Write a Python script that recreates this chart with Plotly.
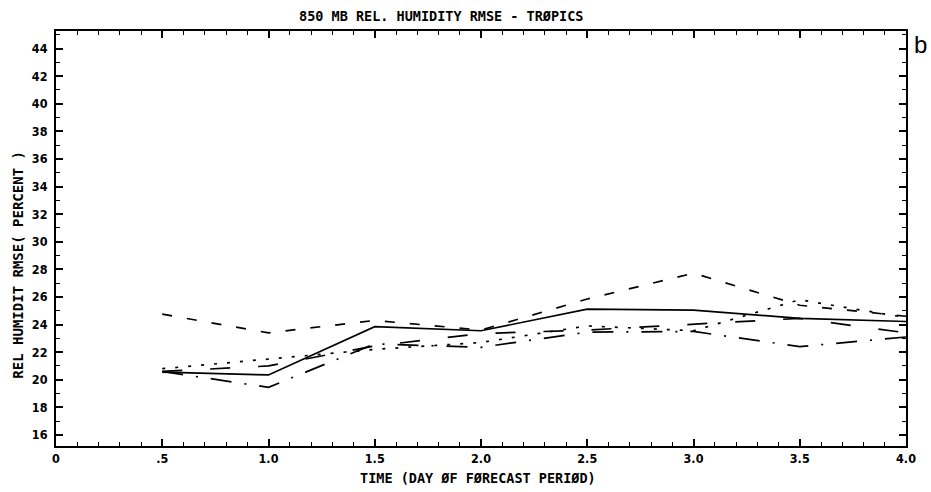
import plotly.graph_objects as go

# ---- data ----
days = [0.5, 1.0, 1.5, 2.0, 2.5, 3.0, 3.5, 4.0]
solid_vals = [20.55, 20.35, 23.85, 23.55, 25.12, 25.05, 24.45, 24.22]
longdash_vals = [24.75, 23.4, 24.3, 23.6, 25.85, 27.72, 25.4, 24.6]
dotted_vals = [20.8, 21.5, 22.2, 22.7, 23.9, 23.55, 25.8, 24.5]
chain_vals = [20.6, 19.45, 22.6, 22.35, 23.45, 23.5, 22.4, 23.1]
meddash_vals = [20.6, 21.0, 22.45, 23.35, 23.6, 24.0, 24.45, 23.4]

x_tickvals = [0, 0.5, 1.0, 1.5, 2.0, 2.5, 3.0, 3.5, 4.0]
x_ticktext = ["0", ".5", "1.0", "1.5", "2.0", "2.5", "3.0", "3.5", "4.0"]
y_tickvals = list(range(16, 45, 2))

title_text = "850 MB REL. HUMIDITY RMSE - TRØPICS"
xaxis_title = "TIME (DAY ØF FØRECAST PERIØD)"
yaxis_title = "REL HUMIDIT RMSE( PERCENT )"
panel_label = "b"

FONT = "DejaVu Sans Condensed"
MONO = "DejaVu Sans Mono"

series = [
    (solid_vals, "solid"),
    (longdash_vals, "10px,15px"),
    (dotted_vals, "3px,10px"),
    (chain_vals, "21px,13px,2px,13px"),
    (meddash_vals, "20px,28px"),
]

fig = go.Figure()
for vals, dash in series:
    fig.add_trace(go.Scatter(
        x=days, y=vals, mode="lines",
        line=dict(color="black", width=1.7, dash=dash),
        showlegend=False, hoverinfo="skip",
    ))

fig.update_layout(
    width=931, height=492,
    margin=dict(l=56, r=25, t=31, b=46),
    paper_bgcolor="white", plot_bgcolor="white",
    font=dict(family=FONT, size=11, color="black", weight="bold"),
    showlegend=False,
)

fig.update_xaxes(
    range=[0, 4.0], showgrid=False, zeroline=False,
    showline=True, linecolor="black", linewidth=2, mirror="ticks",
    ticks="inside", ticklen=7, tickwidth=1.5, tickcolor="black",
    tickvals=x_tickvals, ticktext=x_ticktext,
    tickfont=dict(family=FONT, size=12.5, color="black", weight="bold"),
    minor=dict(ticks="inside", dtick=0.1, tick0=0, ticklen=4, tickwidth=1.2, tickcolor="black"),
)
fig.update_yaxes(
    range=[15.2, 45.27], showgrid=False, zeroline=False,
    showline=True, linecolor="black", linewidth=2, mirror="ticks",
    ticks="inside", ticklen=7, tickwidth=1.5, tickcolor="black",
    tickvals=y_tickvals,
    tickfont=dict(family=FONT, size=12.5, color="black", weight="bold"),
    ticklabelstandoff=4,
    minor=dict(ticks="inside", dtick=1, tick0=0, ticklen=4, tickwidth=1.2, tickcolor="black"),
)

fig.add_annotation(text=title_text, xref="paper", yref="paper", x=0.453, y=1.035,
                   showarrow=False, xanchor="center", yanchor="middle",
                   font=dict(family=MONO, size=13.5, color="black", weight="bold"))
fig.add_annotation(text=xaxis_title, xref="paper", yref="paper", x=0.4965, y=-0.077,
                   showarrow=False, xanchor="center", yanchor="middle",
                   font=dict(family=MONO, size=13.5, color="black", weight="bold"))
fig.add_annotation(text=yaxis_title, xref="paper", yref="paper", x=-0.0447, y=0.437,
                   showarrow=False, xanchor="center", yanchor="middle", textangle=-90,
                   font=dict(family=MONO, size=14, color="black", weight="bold"))
fig.add_annotation(text=panel_label, xref="paper", yref="paper", x=1.0165, y=0.967,
                   showarrow=False, xanchor="center", yanchor="middle",
                   font=dict(family="Liberation Sans", size=24, color="black", weight="normal"))

# remove the page's default body margin so the 931x492 figure fills the window exactly
fig.write_html(
    "out.html",
    config={"displayModeBar": False},
    post_script="document.body.style.margin='0px';document.body.style.overflow='hidden';",
)
